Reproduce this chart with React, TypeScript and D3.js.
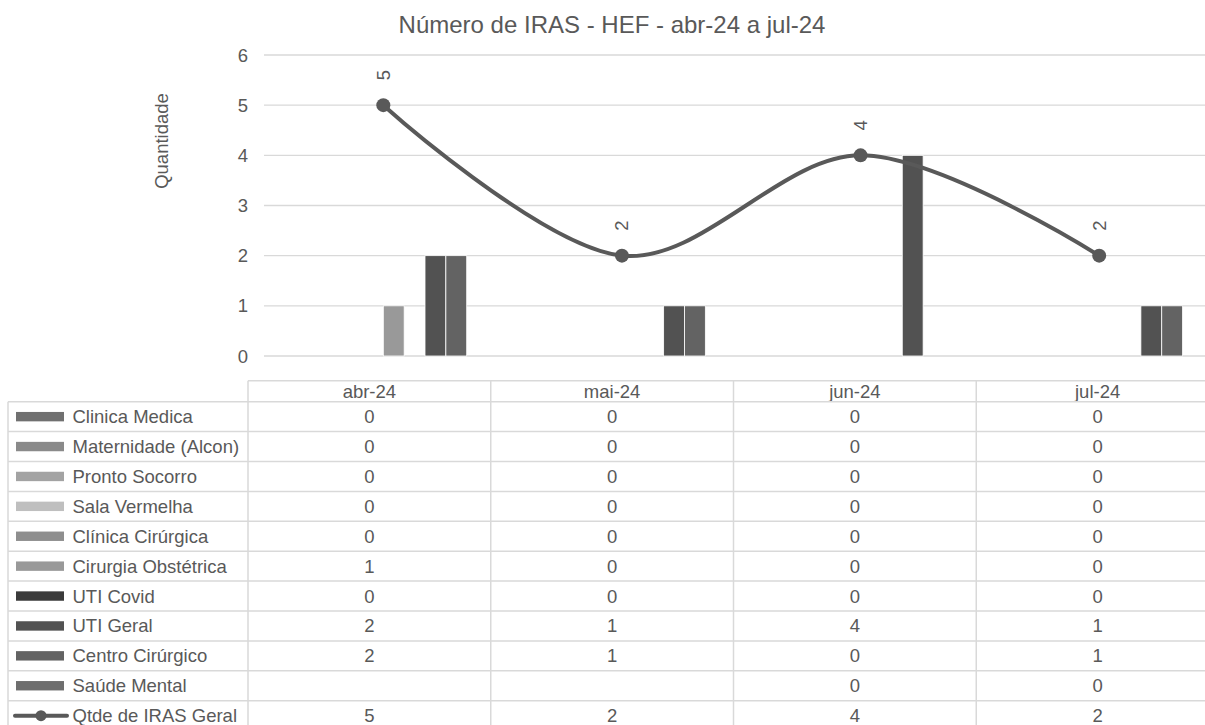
import React from "react";
import * as d3 from "d3";

const months = ["abr-24", "mai-24", "jun-24", "jul-24"];
const seriesNames = [
  "Clinica Medica",
  "Maternidade (Alcon)",
  "Pronto Socorro",
  "Sala Vermelha",
  "Clínica Cirúrgica",
  "Cirurgia Obstétrica",
  "UTI Covid",
  "UTI Geral",
  "Centro Cirúrgico",
  "Saúde Mental",
];
const seriesColors = [
  "#707070",
  "#8a8a8a",
  "#a3a3a3",
  "#bfbfbf",
  "#8e8e8e",
  "#999999",
  "#3b3b3b",
  "#525252",
  "#636363",
  "#6e6e6e",
];
const seriesValues: (number | null)[][] = [
  [0, 0, 0, 0],
  [0, 0, 0, 0],
  [0, 0, 0, 0],
  [0, 0, 0, 0],
  [0, 0, 0, 0],
  [1, 0, 0, 0],
  [0, 0, 0, 0],
  [2, 1, 4, 1],
  [2, 1, 0, 1],
  [null, null, 0, 0],
];
const lineName = "Qtde de IRAS Geral";
const lineValues = [5, 2, 4, 2];
const yTicks = [0, 1, 2, 3, 4, 5, 6];
const title = "Número de IRAS - HEF - abr-24 a jul-24";
const yTitle = "Quantidade";

const TEXT = "#595959";
const GRID = "#d9d9d9";
const FONT = "'Liberation Sans', Arial, sans-serif";
const FS = 18.5;

export default function App() {
  const W = 1205;
  const H = 725;
  const x = d3.scaleBand<string>().domain(months).range([264, 1218.5]).padding(0);
  const groupW = 208.5;
  const xs = d3
    .scaleBand<string>()
    .domain(seriesNames)
    .range([(x.bandwidth() - groupW) / 2, (x.bandwidth() + groupW) / 2])
    .padding(0);
  const y = d3.scaleLinear().domain([0, 6]).range([356, 55]);

  const colX = d3.scaleBand<string>().domain(months).range([248, 1219]).padding(0);
  const rowNames = [...seriesNames, lineName];
  const rowY = d3
    .scaleBand<string>()
    .domain(rowNames)
    .range([401.7, 401.7 + 29.9 * rowNames.length])
    .padding(0);

  const cx = (m: string) => (x(m) as number) + x.bandwidth() / 2;
  const lineGen = d3
    .line<number>()
    .x((_, i) => cx(months[i]))
    .y((v) => y(v))
    .curve(d3.curveCardinal.tension(0));

  const tableTop = 380.7;
  const tableBottom = rowY.range()[1];
  const colEdges = [...months.map((m) => colX(m) as number), colX.range()[1]];

  return (
    <svg
      width={W}
      height={H}
      style={{ position: "absolute", left: 0, top: 0, background: "#fff" }}
      fontFamily={FONT}
    >
      <rect x={0} y={0} width={W} height={H} fill="#fff" />
      <text x={612} y={33} fontSize={24} fill={TEXT} textAnchor="middle">
        {title}
      </text>
      <text
        transform={`translate(168,141) rotate(-90)`}
        fontSize={FS}
        fill={TEXT}
        textAnchor="middle"
      >
        {yTitle}
      </text>

      {/* gridlines and y ticks */}
      {yTicks.map((t) => (
        <g key={t}>
          <line x1={264} x2={1218.5} y1={y(t)} y2={y(t)} stroke={GRID} strokeWidth={1.3} />
          <text x={248} y={y(t) + 6.5} fontSize={FS} fill={TEXT} textAnchor="end">
            {t}
          </text>
        </g>
      ))}

      {/* bars */}
      {seriesNames.map((s, si) =>
        months.map((m, mi) => {
          const v = seriesValues[si][mi];
          if (v == null || v === 0) return null;
          return (
            <rect
              key={s + m}
              x={(x(m) as number) + (xs(s) as number)}
              y={y(v)}
              width={xs.bandwidth()}
              height={y(0) - y(v)}
              fill={seriesColors[si]}
              stroke="#fff"
              strokeWidth={0.8}
            />
          );
        })
      )}

      {/* line */}
      <path d={lineGen(lineValues) || ""} fill="none" stroke={TEXT} strokeWidth={4} strokeLinecap="round" />
      {lineValues.map((v, i) => (
        <g key={i}>
          <circle cx={cx(months[i])} cy={y(v)} r={7} fill={TEXT} />
          <text
            transform={`translate(${cx(months[i]) + 6.5},${y(v) - 30}) rotate(-90)`}
            fontSize={FS}
            fill={TEXT}
            textAnchor="middle"
          >
            {v}
          </text>
        </g>
      ))}

      {/* data table */}
      <g>
        <line x1={248} x2={1219} y1={tableTop} y2={tableTop} stroke={GRID} strokeWidth={1.5} />
        {months.map((m) => (
          <text
            key={m}
            x={(colX(m) as number) + colX.bandwidth() / 2}
            y={398}
            fontSize={FS}
            fill={TEXT}
            textAnchor="middle"
          >
            {m}
          </text>
        ))}
        {rowNames.map((r) => (
          <line
            key={"h" + r}
            x1={8}
            x2={1219}
            y1={rowY(r) as number}
            y2={rowY(r) as number}
            stroke={GRID}
            strokeWidth={1.5}
          />
        ))}
        <line x1={8} x2={1219} y1={tableBottom} y2={tableBottom} stroke={GRID} strokeWidth={1.5} />
        <line x1={8} x2={8} y1={rowY.range()[0]} y2={tableBottom} stroke={GRID} strokeWidth={1.5} />
        {colEdges.map((e, i) => (
          <line key={"v" + i} x1={e} x2={e} y1={tableTop} y2={tableBottom} stroke={GRID} strokeWidth={1.5} />
        ))}
        {rowNames.map((r, ri) => {
          const top = rowY(r) as number;
          const mid = top + rowY.bandwidth() / 2;
          const isLine = ri === seriesNames.length;
          const vals = isLine ? lineValues : seriesValues[ri];
          return (
            <g key={"r" + r}>
              {isLine ? (
                <g>
                  <line x1={15} x2={67} y1={mid} y2={mid} stroke={TEXT} strokeWidth={4} strokeLinecap="round" />
                  <circle cx={41} cy={mid} r={5.5} fill={TEXT} />
                </g>
              ) : (
                <rect x={16} y={mid - 4.7} width={48} height={9.4} fill={seriesColors[ri]} />
              )}
              <text x={72.5} y={mid + 6.5} fontSize={FS} fill={TEXT}>
                {r}
              </text>
              {months.map((m, mi) => {
                const v = vals[mi];
                if (v == null) return null;
                return (
                  <text
                    key={m}
                    x={(colX(m) as number) + colX.bandwidth() / 2}
                    y={mid + 6.5}
                    fontSize={FS}
                    fill={TEXT}
                    textAnchor="middle"
                  >
                    {v}
                  </text>
                );
              })}
            </g>
          );
        })}
      </g>
    </svg>
  );
}
